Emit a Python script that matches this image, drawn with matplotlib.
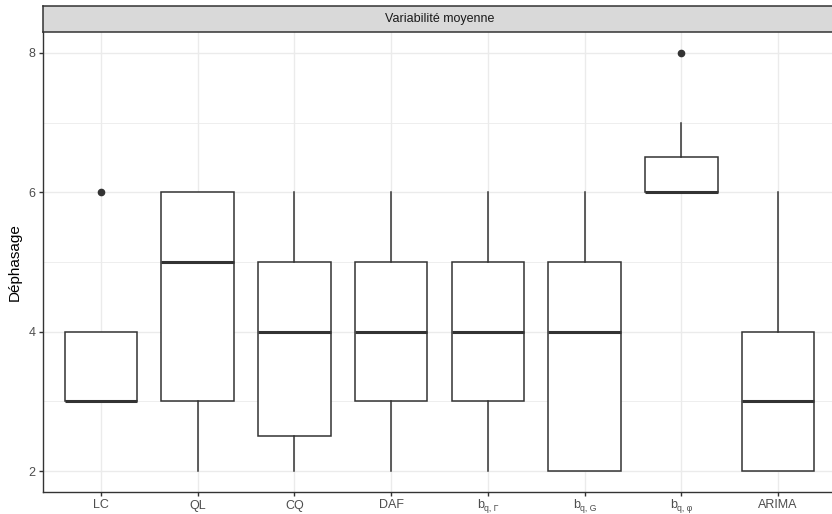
import matplotlib
matplotlib.use("Agg")
import matplotlib.pyplot as plt

plt.rcParams['font.family'] = ['Liberation Sans', 'DejaVu Sans']

categories = ["LC", "QL", "CQ", "DAF", "bqGamma", "bqG", "bqPhi", "ARIMA"]
# tick labels: (main text, subscript text)
tick_main = ["LC", "QL", "CQ", "DAF", "b", "b", "b", "ARIMA"]
tick_sub  = ["", "", "", "", "q, Γ", "q, G", "q, φ", ""]
whislo = [3, 2, 2, 2, 2, 2, 6, 2]
q1     = [3, 3, 2.5, 3, 3, 2, 6, 2]
med    = [3, 5, 4, 4, 4, 4, 6, 3]
q3     = [4, 6, 5, 5, 5, 5, 6.5, 4]
whishi = [4, 6, 6, 6, 6, 6, 7, 6]
outliers = [[6], [], [], [], [], [], [8], []]

title = "Variabilité moyenne"
ylabel = "Déphasage"

W, H = 832, 514
DPI = 100
fig = plt.figure(figsize=(W/DPI, H/DPI), dpi=DPI)
left, right, bottom, top = 43, 836, 492, 32
ax = fig.add_axes([left/W, (H-bottom)/H, (right-left)/W, (bottom-top)/H])

stats = []
for i, c in enumerate(categories):
    stats.append(dict(label=c, whislo=whislo[i], q1=q1[i], med=med[i],
                      q3=q3[i], whishi=whishi[i], fliers=outliers[i]))

dark = "#333333"
ax.bxp(stats, positions=range(len(categories)), widths=0.75, showcaps=False,
       patch_artist=True,
       boxprops=dict(facecolor="white", edgecolor=dark, linewidth=1.1),
       medianprops=dict(color=dark, linewidth=2.2, solid_capstyle="butt"),
       whiskerprops=dict(color=dark, linewidth=1.1),
       flierprops=dict(marker="o", markerfacecolor=dark, markeredgecolor=dark,
                       markersize=4.5))

ax.set_xlim(-0.6, len(categories) - 1 + 0.6)
ax.set_ylim(1.7, 8.3)
ax.set_xticks(range(len(categories)))
ax.set_xticklabels([""] * len(categories))
ax.set_yticks([2, 4, 6, 8])
ax.set_yticks([3, 5, 7], minor=True)
ax.grid(True, which="major", color="#EBEBEB", linewidth=1.0)
ax.grid(True, which="minor", axis="y", color="#EBEBEB", linewidth=0.6)
ax.set_axisbelow(True)
for s in ["top", "right"]:
    ax.spines[s].set_visible(False)
for s in ["left", "bottom"]:
    ax.spines[s].set_color(dark)
    ax.spines[s].set_linewidth(1.0)
ax.tick_params(axis="both", which="major", colors=dark, length=3, width=1.0,
               labelsize=9, labelcolor="#4D4D4D", pad=2.5)
ax.tick_params(axis="y", which="minor", length=0)
ax.set_ylabel(ylabel, fontsize=11, color="black", labelpad=5)

# x tick labels drawn as main text + subscript
px2pt = 72.0 / DPI
base_main = -16.5  # px below axis
base_sub = -19.0
renderer = fig.canvas.get_renderer()
for i, (m, s) in enumerate(zip(tick_main, tick_sub)):
    tm = ax.annotate(m, xy=(i, 0), xycoords=("data", "axes fraction"),
                     xytext=(0, base_main * px2pt), textcoords="offset points",
                     ha="left", va="baseline", fontsize=9, color="#4D4D4D")
    wm = tm.get_window_extent(renderer).width
    ws = 0.0
    ts = None
    if s:
        ts = ax.annotate(s, xy=(i, 0), xycoords=("data", "axes fraction"),
                         xytext=(0, base_sub * px2pt), textcoords="offset points",
                         ha="left", va="baseline", fontsize=6.3, color="#4D4D4D")
        ws = ts.get_window_extent(renderer).width
    total = wm + ws
    tm.set_position((-total / 2 * px2pt, base_main * px2pt))
    if ts is not None:
        ts.set_position(((-total / 2 + wm) * px2pt, base_sub * px2pt))

sax = fig.add_axes([left/W, (H-top)/H, (right-left)/W, (top-6)/H])
sax.set_xlim(left, right); sax.set_ylim(0, 1)
sax.set_facecolor("#D9D9D9")
for sp in sax.spines.values():
    sp.set_color(dark); sp.set_linewidth(1.1)
sax.set_xticks([]); sax.set_yticks([])
sax.text((left + right) / 2, 0.5, title,
         ha="center", va="center", fontsize=9, color="#1A1A1A")

fig.savefig("out.png", dpi=DPI)
